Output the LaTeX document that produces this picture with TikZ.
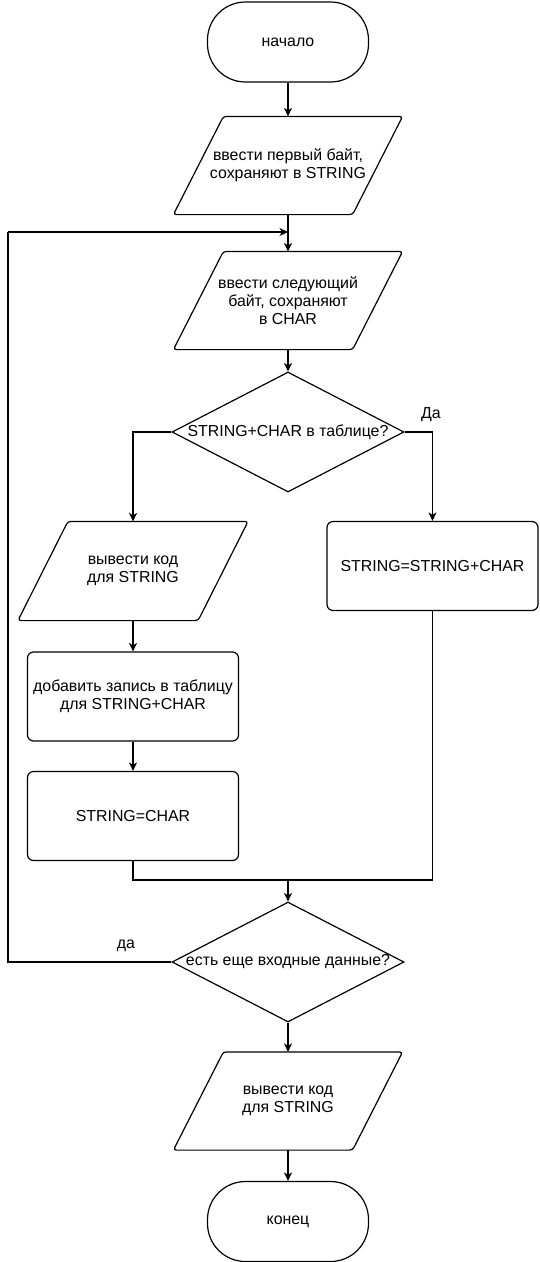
\documentclass[tikz,border=0pt]{standalone}
\usepackage{fontspec}
\setmainfont{Liberation Sans}
\usetikzlibrary{arrows.meta,calc,shapes.geometric}
\newcommand{\drawIO}[1]{\draw[line width=1.2pt, rounded corners=3pt] (#1.south west) -- ([xshift=-50pt]#1.south east) -- (#1.north east) -- ([xshift=50pt]#1.north west) -- cycle;}
\begin{document}
\begin{tikzpicture}[x=1pt,y=-1pt,
  base/.style={line width=1.2pt, font=\fontsize{15.9}{18.3}\selectfont, align=center, inner sep=0pt},
  term/.style={base, draw, rectangle, rounded corners=38pt, minimum width=161pt, minimum height=80pt},
  procbox/.style={base, draw, rectangle, rounded corners=6pt, minimum width=211pt, minimum height=89pt},
  iobox/.style={base, rectangle, minimum width=228pt, minimum height=97pt},
  decision/.style={draw, diamond, line width=1.2pt, minimum width=232pt, minimum height=120pt, inner sep=0pt},
  lbl/.style={base},
  conn/.style={line width=1.2pt, -{Stealth[length=8.5pt,width=8pt,inset=2.5pt]}},
  plain/.style={line width=1.2pt}
]
\fill[white] (0,0) rectangle (539,1262);
\useasboundingbox (0,0) rectangle (539,1262);

\node[term] (start) at (288,42) {начало};
\node[iobox] (p1) at (288,165.5) {ввести первый байт,\\сохраняют в STRING};
\drawIO{p1}
\node[iobox] (p2) at (288,300.5) {ввести следующий\\байт, сохраняют\\в CHAR};
\drawIO{p2}
\node[decision] (d1) at (288,432) {};
\node[lbl] at (d1.center) {STRING+CHAR в таблице?};
\node[iobox, minimum width=229pt, minimum height=98pt] (p3) at (133,571) {вывести код\\для STRING};
\drawIO{p3}
\node[procbox] (r1) at (432.5,566) {STRING=STRING+CHAR};
\node[procbox] (a1) at (133,696.5) {добавить запись в таблицу\\для STRING+CHAR};
\node[procbox] (a2) at (133,816) {STRING=CHAR};
\node[decision] (d2) at (288,962) {};
\node[lbl] at (d2.center) {есть еще входные данные?};
\node[iobox] (p4) at (288,1101) {вывести код\\для STRING};
\drawIO{p4}
\node[term] (stop) at (288,1221.5) {конец};

\coordinate (mrg) at (288,880);
\coordinate (lpb) at (8,962);
\coordinate (lpt) at (8,232);
\coordinate (jn) at (288,232);

\draw[conn] (start) -- (p1);
\draw[conn] (p1) -- (p2);
\draw[conn] (p2) -- (d1);
\draw[conn] (d1.west) -| (p3.north);
\draw[conn] (d1.east) -| (r1.north);
\node[lbl] at (431,415) {Да};
\draw[conn] (p3) -- (a1);
\draw[conn] (a1) -- (a2);
\draw[plain] (a2.south) |- (mrg) -| (r1.south);
\draw[conn] (mrg) -- (d2.north);
\draw[plain] (d2.west) -- (lpb) -- (lpt);
\draw[conn] (lpt) -- (jn);
\node[lbl] at (126,946) {да};
\draw[conn] (d2) -- (p4);
\draw[conn] (p4) -- (stop);
\end{tikzpicture}
\end{document}
